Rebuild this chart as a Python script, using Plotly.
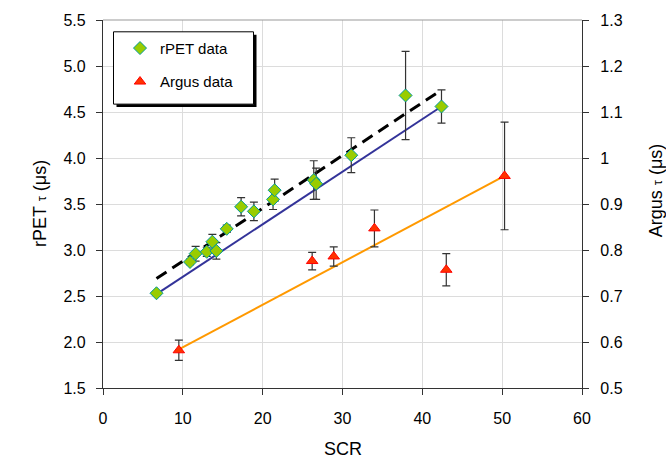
import plotly.graph_objects as go

# rPET lifetimes vs SCR (left axis)
rpet_scr = [6.7, 10.9, 11.6, 13.0, 13.7, 14.2, 15.5, 17.3, 18.9, 21.3, 21.5, 26.4, 26.7, 31.1, 37.9, 42.4]
rpet_tau = [2.53, 2.87, 2.96, 2.98, 3.09, 2.99, 3.23, 3.47, 3.42, 3.55, 3.65, 3.76, 3.72, 4.03, 4.68, 4.56]
rpet_err = [0.02, 0.03, 0.08, 0.05, 0.08, 0.09, 0.04, 0.10, 0.10, 0.11, 0.12, 0.21, 0.17, 0.19, 0.48, 0.18]

# Argus lifetimes vs SCR (right axis)
argus_scr = [9.5, 26.2, 28.9, 34.0, 43.0, 50.3]
argus_tau = [0.582, 0.776, 0.786, 0.847, 0.757, 0.961]
argus_err = [0.022, 0.019, 0.021, 0.040, 0.035, 0.117]

# Straight-line trends
rpet_line_x = [6.7, 42.4]
rpet_line_y = [2.52, 4.56]
rpet_dash_x = [6.7, 42.4]
rpet_dash_y = [2.69, 4.74]
argus_line_x = [9.5, 50.3]
argus_line_y = [0.584, 0.961]

FONT = "Liberation Sans, Arial, sans-serif"
W, H = 666, 463
ML, MR, MT, MB = 103, 84, 14, 75
PW, PH = W - ML - MR, H - MT - MB


def px(x):
    return (x - ML) / PW


def py(y):
    return (H - MB - y) / PH


fig = go.Figure()

fig.add_trace(go.Scatter(x=rpet_line_x, y=rpet_line_y, mode="lines",
                         line=dict(color="#333399", width=2), showlegend=False))
fig.add_trace(go.Scatter(x=rpet_dash_x, y=rpet_dash_y, mode="lines",
                         line=dict(color="black", width=3, dash="12px,7px"), showlegend=False))
fig.add_trace(go.Scatter(x=argus_line_x, y=argus_line_y, mode="lines", yaxis="y2",
                         line=dict(color="#FF9900", width=2), showlegend=False))

fig.add_trace(go.Scatter(
    x=rpet_scr, y=rpet_tau, mode="markers", name="rPET data", legendgroup="a",
    marker=dict(symbol="diamond", size=10, color="#99CC00", line=dict(color="#009999", width=1)),
    error_y=dict(type="data", array=rpet_err, color="#333333", thickness=1.2, width=4),
))
fig.add_trace(go.Scatter(
    x=argus_scr, y=argus_tau, mode="markers", name="Argus data", legendgroup="b", yaxis="y2",
    marker=dict(symbol="triangle-up", size=10, color="#FF3300", line=dict(color="#FF0000", width=1)),
    error_y=dict(type="data", array=argus_err, color="#333333", thickness=1.2, width=4),
))

axis_common = dict(
    showline=True, linecolor="#333333", linewidth=1.2,
    ticks="outside", ticklen=6, tickcolor="#333333", tickwidth=1,
    showgrid=True, gridcolor="#dcdcdc", gridwidth=1,
    tickfont=dict(family=FONT, size=16, color="black"),
    zeroline=False,
)

fig.update_layout(
    width=W, height=H,
    margin=dict(l=ML, r=MR, t=MT, b=MB),
    paper_bgcolor="white", plot_bgcolor="white",
    font=dict(family=FONT, color="black"),
    xaxis=dict(range=[0, 60], dtick=10, tick0=0, ticklabelstandoff=10, **axis_common),
    yaxis=dict(range=[1.5, 5.5], dtick=0.5, tick0=1.5, tickformat=".1f",
               ticklabelstandoff=7, **axis_common),
    yaxis2=dict(range=[0.5, 1.3], dtick=0.1, tick0=0.5, overlaying="y", side="right",
                ticklabelstandoff=8, **{**axis_common, "showgrid": False}),
    legend=dict(x=px(120), y=py(26), xanchor="left", yanchor="top",
                bgcolor="rgba(0,0,0,0)", borderwidth=0, tracegroupgap=11,
                font=dict(family=FONT, size=15, color="black")),
    shapes=[
        dict(type="line", xref="paper", yref="paper", x0=0, x1=1, y0=1, y1=1,
             line=dict(color="#999999", width=1)),
        dict(type="rect", xref="paper", yref="paper", x0=px(116.5), x1=px(256.5),
             y0=py(102.5), y1=py(29), fillcolor="black", line=dict(width=0), layer="above"),
        dict(type="rect", xref="paper", yref="paper", x0=px(113.5), x1=px(253.5),
             y0=py(99.5), y1=py(26), fillcolor="white", line=dict(color="black", width=1),
             layer="above"),
    ],
    annotations=[
        dict(text="SCR", xref="paper", yref="paper", x=0.5, y=py(450), showarrow=False,
             font=dict(family=FONT, size=18, color="black"), xanchor="center", yanchor="middle"),
        dict(text="rPET <span style='font-size:13px'>τ</span> (μs)", xref="paper", yref="paper",
             x=px(40), y=0.5, textangle=-90, showarrow=False,
             font=dict(family=FONT, size=18, color="black"), xanchor="center", yanchor="middle"),
        dict(text="Argus <span style='font-size:13px'>τ</span> (μs)", xref="paper", yref="paper",
             x=px(656), y=py(187), textangle=-90, showarrow=False,
             font=dict(family=FONT, size=18, color="black"), xanchor="center", yanchor="middle"),
    ],
)

fig.write_html("out.html")
